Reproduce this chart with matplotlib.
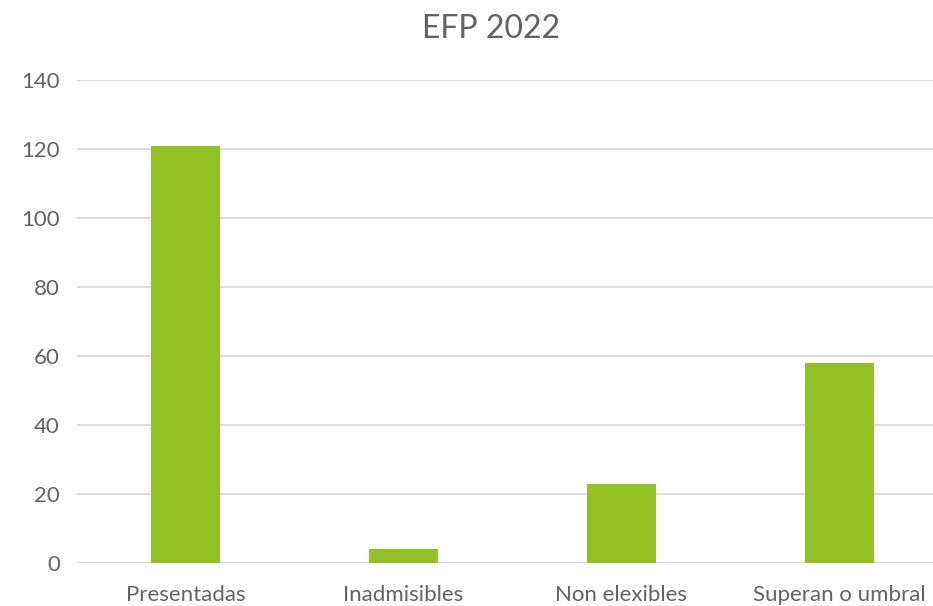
import matplotlib
matplotlib.use("Agg")
import matplotlib.pyplot as plt

categorias = ["Presentadas", "Inadmisibles", "Non elexibles", "Superan o umbral"]
valores = [121, 4, 23, 58]

plt.rcParams['font.family'] = ['Lato', 'DejaVu Sans']

fig = plt.figure(figsize=(9.33, 6.06), dpi=100)
# area de debuxo: pasa un pouco do bordo dereito, coma no orixinal
ax = fig.add_axes([0.082, 0.071, 0.9346, 0.797])

ax.bar(range(len(categorias)), valores, width=0.316, color="#92C125", zorder=3)
ax.set_xlim(-0.5, len(categorias) - 0.5)
ax.set_ylim(0, 140)
ax.set_yticks(range(0, 141, 20))
ax.set_xticks(range(len(categorias)))
ax.set_xticklabels(categorias)

ax.grid(axis="y", color="#D9D9D9", linewidth=1.3, zorder=0)
for s in ax.spines.values():
    s.set_visible(False)
ax.tick_params(axis="both", length=0, labelsize=16, labelcolor="#636363")
ax.tick_params(axis="x", pad=16)
ax.tick_params(axis="y", pad=12)

fig.text(0.526, 0.952, "EFP 2022", ha="center", va="center",
         fontsize=23, color="#636363")

fig.savefig("out.png", dpi=100)
